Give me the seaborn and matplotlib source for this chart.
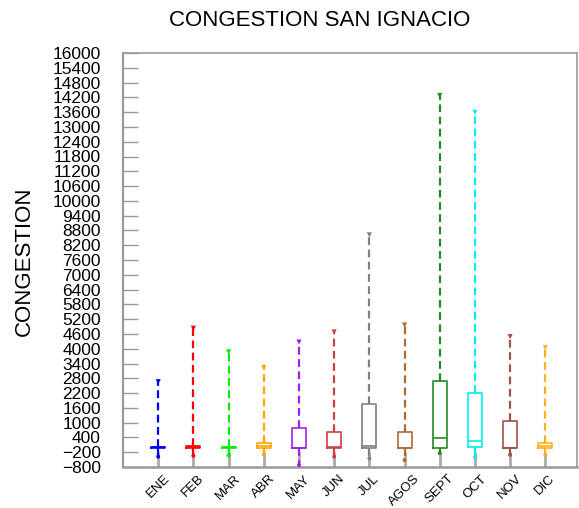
import matplotlib
matplotlib.use("Agg")
import matplotlib.pyplot as plt
import seaborn as sns
import pandas as pd
import numpy as np

months = ["ENE", "FEB", "MAR", "ABR", "MAY", "JUN", "JUL", "AGOS", "SEPT", "OCT", "NOV", "DIC"]
whisk_max = [2660, 4830, 3870, 3240, 4270, 4680, 8620, 4960, 14270, 13590, 4490, 4040]
q3 = [20, 40, 20, 160, 770, 610, 1740, 610, 2700, 2190, 1070, 160]
medians = [0, 0, 0, 60, -20, 0, 60, -20, 360, 260, -20, 60]
q1 = [-20, -40, -20, -30, -40, -20, -20, -40, -40, 20, -40, -40]
whisk_min = [-380, -350, -330, -290, -720, -380, -450, -520, -240, -400, -310, -310]
colors = ["#0000ff", "#ff0000", "#00ee00", "#ffa500", "#a020f0", "#cd4040",
          "#808080", "#b06a30", "#228b22", "#00f0f0", "#a0524d", "#ffb020"]

sns.set_style("white")
plt.rcParams["font.family"] = ["Liberation Sans", "DejaVu Sans"]
plt.rcParams["text.color"] = "black"
plt.rcParams["xtick.color"] = "black"
plt.rcParams["ytick.color"] = "black"

# five values per month give back min / q1 / median / q3 / max exactly
rows = []
for m, lo, a, md, b, hi in zip(months, whisk_min, q1, medians, q3, whisk_max):
    for v in (lo, a, md, b, hi):
        rows.append({"month": m, "value": v})
df = pd.DataFrame(rows)
palette = dict(zip(months, colors))

fig = plt.figure(figsize=(5.79, 5.08), dpi=100)
ax = fig.add_axes([123 / 579, 41 / 508, 454 / 579, 414 / 508])

sns.boxplot(data=df, x="month", y="value", hue="month", order=months,
            hue_order=months, palette=palette, fill=False, width=0.4,
            whis=np.inf, linewidth=1.2, showcaps=False, legend=False,
            whiskerprops={"linestyle": (0, (3.5, 2)), "linewidth": 1.6}, ax=ax)

# small end markers on the whiskers
sns.scatterplot(x=months, y=whisk_max, hue=months, palette=palette, marker="v",
                s=14, linewidth=0, legend=False, ax=ax, zorder=3)
sns.scatterplot(x=months, y=whisk_min, hue=months, palette=palette, marker="o",
                s=8, linewidth=0, legend=False, ax=ax, zorder=3)

ax.set_ylim(-800, 16000)
ax.set_yticks(np.arange(-800, 16001, 600))
ax.set_xlim(-1, 11.9)
ax.set_xlabel("")
ax.set_ylabel("")
ax.set_axisbelow(True)

ax.tick_params(axis="y", left=True, direction="in", length=11, width=1,
               color="#9a9a9a", labelcolor="black", labelsize=12.5, pad=16)
ax.tick_params(axis="x", bottom=True, direction="in", length=11, width=2,
               color="#aaaaaa", labelcolor="black", labelsize=9.5, pad=4,
               labelrotation=45)

for side, sp in ax.spines.items():
    sp.set_color("#9a9a9a")
    sp.set_linewidth(1.2)
ax.spines["bottom"].set_linewidth(1.8)
ax.spines["left"].set_linewidth(1.6)

fig.text(320 / 579, 1 - 21 / 508, "CONGESTION SAN IGNACIO", fontsize=16,
         ha="center", va="center")
fig.text(24 / 579, 1 - 261 / 508, "CONGESTION", fontsize=16, rotation=90,
         ha="center", va="center")

fig.savefig("out.png", dpi=100)
